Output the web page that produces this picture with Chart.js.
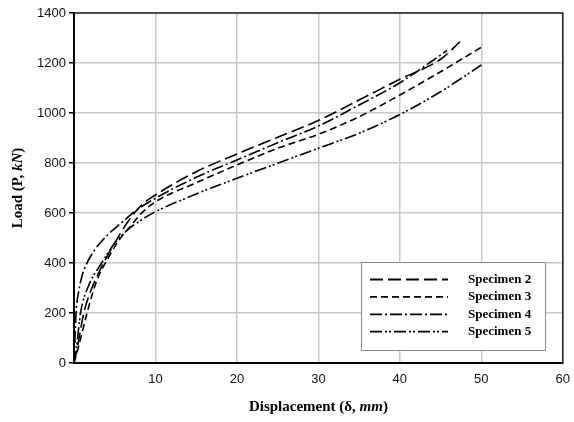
<!DOCTYPE html>
<html>
<head>
<meta charset="utf-8">
<script src="https://cdn.jsdelivr.net/npm/chart.js@4"></script>
<style>
  html, body { margin: 0; padding: 0; background: #fff; }
  #wrap { width: 574px; height: 422px; }
</style>
</head>
<body>
<div id="wrap"><canvas id="myChart" width="574" height="422"></canvas></div>
<script>
// displacement (mm) and load (kN)
const spec2X = [0, 0.4, 1.2, 2.2, 3.8, 5, 6.5, 8.3, 10, 15, 20, 25, 30, 35, 40, 45, 47.4];
const spec2Y = [0, 60, 200, 300, 410, 480, 560, 632, 672, 765, 836, 903, 970, 1052, 1135, 1215, 1285];

const spec3X = [0, 0.6, 1.6, 2.8, 4.2, 5.5, 7, 8.3, 10, 15, 20, 25, 30, 35, 40, 45, 50.3];
const spec3Y = [0, 70, 200, 330, 420, 490, 550, 600, 645, 721, 792, 859, 915, 985, 1072, 1165, 1269];

const spec4X = [0, 0.1, 0.25, 0.6, 1, 1.6, 2.6, 4.2, 5.8, 7.7, 10, 15, 20, 25, 30, 35, 40, 45.8];
const spec4Y = [0, 80, 200, 290, 350, 400, 455, 515, 560, 612, 659, 743, 812, 881, 948, 1032, 1121, 1250];

const spec5X = [0, 0.3, 0.8, 1.8, 3.4, 5, 6.5, 8.3, 10, 15, 20, 25, 30, 35, 40, 45, 50];
const spec5Y = [0, 60, 200, 310, 400, 480, 530, 573, 605, 676, 739, 799, 859, 919, 994, 1085, 1192];

const seriesNames = ['Specimen 2', 'Specimen 3', 'Specimen 4', 'Specimen 5'];
const xTicks = [0, 10, 20, 30, 40, 50, 60];
const yTicks = [0, 200, 400, 600, 800, 1000, 1200, 1400];

const dashes = [[13, 5], [7, 4], [12, 3, 2, 3], [12, 3, 2, 2, 2, 3]];

function toPoints(xs, ys) {
    return xs.map((x, i) => ({ x: x, y: ys[i] }));
}

const allData = [
    toPoints(spec2X, spec2Y),
    toPoints(spec3X, spec3Y),
    toPoints(spec4X, spec4Y),
    toPoints(spec5X, spec5Y)
];

const datasets = seriesNames.map((name, i) => ({
    label: name,
    data: allData[i],
    borderColor: '#000',
    borderWidth: 1.6,
    borderDash: dashes[i],
    pointRadius: 0,
    fill: false,
    cubicInterpolationMode: 'monotone'
}));

// draws a run of text pieces with their own fonts, centred on (cx, cy)
function drawMixed(ctx, parts, cx, cy) {
    let total = 0;
    parts.forEach(p => { ctx.font = p.font; total += ctx.measureText(p.text).width; });
    let x = cx - total / 2;
    ctx.textBaseline = 'middle';
    ctx.textAlign = 'left';
    parts.forEach(p => {
        ctx.font = p.font;
        ctx.fillText(p.text, x, cy);
        x += ctx.measureText(p.text).width;
    });
}

const framePlugin = {
    id: 'frame',
    afterDraw(chart) {
        const ctx = chart.ctx;
        const a = chart.chartArea;
        ctx.save();

        // top and right edges of the plot
        ctx.strokeStyle = '#222';
        ctx.lineWidth = 1.5;
        ctx.setLineDash([]);
        ctx.beginPath();
        ctx.moveTo(a.left, a.top);
        ctx.lineTo(a.right, a.top);
        ctx.lineTo(a.right, a.bottom);
        ctx.stroke();

        // axis titles
        ctx.fillStyle = '#000';
        const b = 'bold 15px "Liberation Serif"';
        const bi = 'italic bold 15px "Liberation Serif"';
        drawMixed(ctx, [
            { text: 'Displacement (\u03B4, ', font: b },
            { text: 'mm', font: bi },
            { text: ')', font: b }
        ], (a.left + a.right) / 2, 407);

        ctx.save();
        ctx.translate(18, (a.top + a.bottom) / 2);
        ctx.rotate(-Math.PI / 2);
        drawMixed(ctx, [
            { text: 'Load (P, ', font: b },
            { text: 'kN', font: bi },
            { text: ')', font: b }
        ], 0, 0);
        ctx.restore();

        // legend box inside the plot
        const lx = 361, ly = 262, lw = 184, lh = 88;
        ctx.fillStyle = '#fff';
        ctx.fillRect(lx, ly, lw, lh);
        ctx.strokeStyle = '#888';
        ctx.lineWidth = 1;
        ctx.strokeRect(lx + 0.5, ly + 0.5, lw, lh);

        ctx.fillStyle = '#000';
        ctx.font = 'bold 13px "Liberation Serif"';
        ctx.textBaseline = 'middle';
        ctx.textAlign = 'left';
        chart.data.datasets.forEach((ds, i) => {
            const y = 279.5 + i * 17.4;
            ctx.strokeStyle = '#000';
            ctx.lineWidth = 1.8;
            ctx.setLineDash(ds.borderDash);
            ctx.beginPath();
            ctx.moveTo(370, y);
            ctx.lineTo(448, y);
            ctx.stroke();
            ctx.setLineDash([]);
            ctx.fillText(ds.label, 468, y);
        });
        ctx.restore();
    }
};

const ctx = document.getElementById('myChart').getContext('2d');
const chart = new Chart(ctx, {
    type: 'line',
    data: { datasets: datasets },
    options: {
        responsive: false,
        animation: false,
        layout: { padding: { left: 0, top: 13, right: 7, bottom: 0 } },
        plugins: {
            legend: { display: false },
            tooltip: { enabled: false }
        },
        scales: {
            x: {
                type: 'linear',
                min: xTicks[0],
                max: xTicks[xTicks.length - 1],
                afterBuildTicks: (s) => { s.ticks = xTicks.map(v => ({ value: v })); },
                afterFit: (s) => { s.height = 59; },
                grid: { color: '#c8c8c8', lineWidth: 1.5, tickLength: 5, tickColor: 'rgba(0,0,0,0)' },
                border: { color: '#000', width: 2 },
                ticks: {
                    color: '#111',
                    padding: 4,
                    font: { family: '"Liberation Sans"', size: 13 },
                    callback: (v) => v === 0 ? '' : String(v)
                }
            },
            y: {
                type: 'linear',
                min: yTicks[0],
                max: yTicks[yTicks.length - 1],
                afterBuildTicks: (s) => { s.ticks = yTicks.map(v => ({ value: v })); },
                afterFit: (s) => { s.width = 74; },
                grid: { color: '#c8c8c8', lineWidth: 1.5, tickLength: 5, tickColor: '#000' },
                border: { color: '#000', width: 2 },
                ticks: {
                    color: '#111',
                    padding: 3,
                    font: { family: '"Liberation Sans"', size: 13 },
                    callback: (v) => String(v)
                }
            }
        }
    },
    plugins: [framePlugin]
});
</script>
</body>
</html>
